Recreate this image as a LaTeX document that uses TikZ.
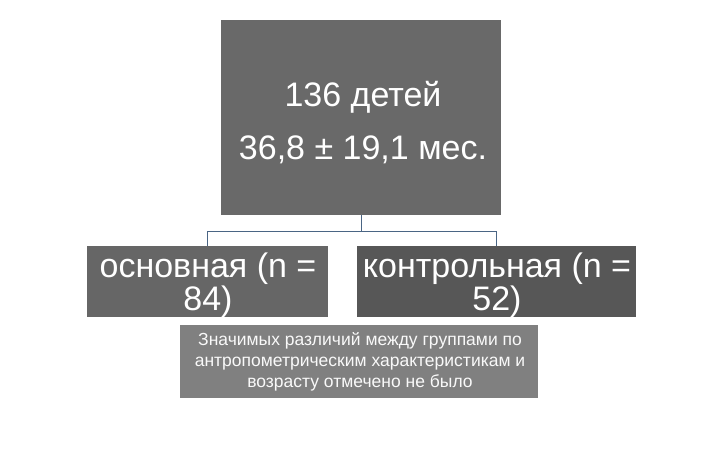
\documentclass[tikz,border=0pt]{standalone}
\usepackage{fontspec}
\setmainfont{Liberation Sans}
\definecolor{connc}{RGB}{74,101,132}
\begin{document}
\begin{tikzpicture}[x=1pt,y=-1pt,
  box/.style={rectangle,inner sep=0pt,draw=none},
  txt/.style={inner sep=0pt,align=center,text=white},
  conn/.style={draw=connc,line width=0.9pt}]
\useasboundingbox (0,0) rectangle (720,450);
\node[box,fill=black!59,minimum width=280pt,minimum height=195pt] (top) at (361,117.5) {};
\node[box,fill=black!60,minimum width=241pt,minimum height=71pt] (left) at (207.5,281.5) {};
\node[box,fill=black!66,minimum width=279pt,minimum height=71pt] (right) at (496.5,281.5) {};
\node[box,fill=black!50,minimum width=358pt,minimum height=73pt] (note) at (359,361.5) {};
\node[txt,font=\fontsize{34}{53}\selectfont] (toptxt) at (363,123) {136 детей\\36,8 ± 19,1 мес.};
\node[txt,font=\fontsize{34}{32.5}\selectfont] (lefttxt) at (208,285) {основная (n =\\84)};
\node[txt,font=\fontsize{34}{32.5}\selectfont] (righttxt) at (497,285) {контрольная (n =\\52)};
\node[txt,font=\fontsize{17.5}{21}\selectfont,text=white!95!gray] (notetxt) at (360,362) {Значимых различий между группами по\\антропометрическим характеристикам и\\возрасту отмечено не было};
\coordinate (j) at (361,231);
\draw[conn] (top.south) -- (j);
\draw[conn] (j) -| (left.north);
\draw[conn] (j) -| (right.north);
\end{tikzpicture}
\end{document}
